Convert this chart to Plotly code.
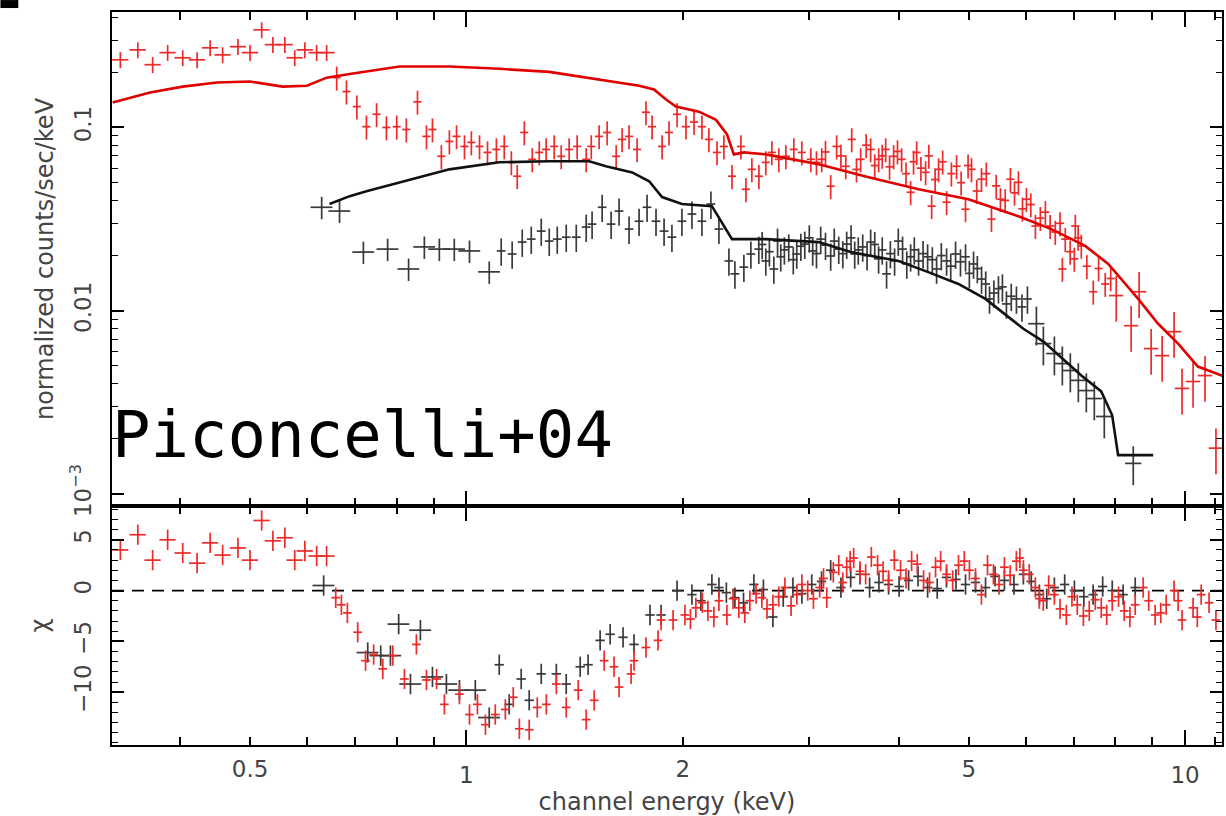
import plotly.graph_objects as go

# ---------------- spectrum data (keV, normalized counts/sec/keV) ----------------
# red spectrum, soft band
red_soft_E = [0.330, 0.349, 0.366, 0.384, 0.403, 0.422, 0.440, 0.458, 0.481, 0.500,
              0.519, 0.538, 0.559, 0.577, 0.596, 0.619, 0.639]
red_soft_F = [0.234, 0.265, 0.220, 0.256, 0.240, 0.234, 0.272, 0.249, 0.276, 0.256,
              0.341, 0.283, 0.283, 0.240, 0.265, 0.256, 0.256]
red_soft_chi = [4.0, 5.5, 3.0, 5.0, 3.7, 2.7, 4.7, 3.5, 4.2, 3.0,
                6.9, 4.9, 5.2, 3.0, 3.9, 3.4, 3.4]

# red spectrum, main band
red_E = [0.660, 0.681, 0.704, 0.726, 0.750, 0.774, 0.800, 0.825, 0.855, 0.880,
         0.897, 0.923, 0.947, 0.969, 0.994, 1.016, 1.043, 1.070, 1.101, 1.129,
         1.155, 1.177, 1.204, 1.235, 1.263, 1.291, 1.325, 1.355, 1.390, 1.426,
         1.468, 1.492, 1.530, 1.570, 1.616, 1.647, 1.684, 1.728, 1.778, 1.813,
         1.872, 1.914, 1.964, 2.021, 2.074, 2.127, 2.175, 2.232, 2.282, 2.342,
         2.410, 2.449, 2.496, 2.553, 2.610, 2.661, 2.721, 2.783, 2.855, 2.929,
         3.015, 3.07, 3.122, 3.16, 3.213, 3.275, 3.32, 3.372, 3.437, 3.49,
         3.537, 3.60, 3.652, 3.70, 3.747, 3.79, 3.832, 3.88, 3.931, 3.98,
         4.033, 4.09, 4.151, 4.19, 4.232, 4.29, 4.355, 4.40, 4.440, 4.49,
         4.540, 4.60, 4.658, 4.73, 4.809, 4.88, 4.949, 4.99, 5.045, 5.13,
         5.209, 5.29, 5.378, 5.46, 5.535, 5.62, 5.715, 5.79, 5.864, 5.94,
         6.016, 6.10, 6.191, 6.29, 6.392, 6.49, 6.598, 6.70, 6.750, 6.813,
         6.92, 7.013, 7.035, 7.10, 7.172, 7.30, 7.452, 7.58, 7.743, 7.88]
red_F = [0.187, 0.157, 0.130, 0.101, 0.118, 0.100, 0.101, 0.0975, 0.138, 0.0894,
         0.0975, 0.0696, 0.0839, 0.0894, 0.0788, 0.0829, 0.0788, 0.0731, 0.0759, 0.0788,
         0.0645, 0.0542, 0.0939, 0.0670, 0.0731, 0.0759, 0.0788, 0.0696, 0.0759, 0.0788,
         0.0670, 0.0788, 0.0894, 0.0939, 0.0696, 0.0861, 0.0894, 0.0759, 0.121, 0.101,
         0.0788, 0.0939, 0.118, 0.101, 0.107, 0.101, 0.0861, 0.0731, 0.0788, 0.0542,
         0.0788, 0.0460, 0.0591, 0.0542, 0.0645, 0.0731, 0.0670, 0.0696, 0.0759, 0.0731,
         0.0670, 0.0645, 0.0670, 0.0735, 0.0478, 0.0788, 0.0700, 0.0614, 0.0861, 0.0590,
         0.0670, 0.0800, 0.0759, 0.0620, 0.0670, 0.0700, 0.0759, 0.0610, 0.0696, 0.0740,
         0.0670, 0.0560, 0.0443, 0.0650, 0.0731, 0.0600, 0.0569, 0.0700, 0.0372, 0.0520,
         0.0591, 0.0650, 0.0391, 0.0560, 0.0614, 0.0500, 0.0358, 0.0620, 0.0591, 0.0450,
         0.0522, 0.0560, 0.0316, 0.0480, 0.0406, 0.0400, 0.0522, 0.0440, 0.0502, 0.0360,
         0.0406, 0.0380, 0.0290, 0.0320, 0.0345, 0.0290, 0.0269, 0.0300, 0.0169, 0.0246,
         0.0210, 0.0192, 0.0290, 0.0250, 0.0226, 0.0175, 0.0127, 0.0170, 0.0140, 0.0150]

# red spectrum, hard band
red_hard_E = [8.021, 8.414, 8.632, 8.971, 9.292, 9.654, 9.904, 10.26, 10.66, 11.04]
red_hard_F = [0.0121, 0.00829, 0.0127, 0.00622, 0.00569, 0.00769, 0.00377, 0.00411,
              0.00443, 0.00178]

# black spectrum
black_soft_E = [0.629, 0.666, 0.719, 0.777, 0.831, 0.874, 0.917, 0.962, 1.010, 1.076]
black_soft_F = [0.0367, 0.0350, 0.0209, 0.0217, 0.0169, 0.0223, 0.0217, 0.0217,
                0.0212, 0.0163]

black_E = [1.118, 1.158, 1.196, 1.231, 1.271, 1.304, 1.338, 1.377, 1.422, 1.468,
           1.496, 1.545, 1.590, 1.631, 1.684, 1.739, 1.784, 1.836, 1.884, 1.932,
           1.995, 2.060, 2.127, 2.189, 2.246, 2.319, 2.364, 2.433, 2.488, 2.552,
           2.58, 2.610, 2.64, 2.678, 2.71, 2.738, 2.77, 2.809, 2.85, 2.882,
           2.92, 2.957, 3.00, 3.033, 3.07, 3.112, 3.16, 3.213, 3.25, 3.297,
           3.34, 3.382, 3.43, 3.470, 3.51, 3.560, 3.61, 3.652, 3.70, 3.746,
           3.79, 3.843, 3.89, 3.943, 3.99, 4.045, 4.10, 4.151, 4.20, 4.258,
           4.32, 4.383, 4.45, 4.511, 4.58, 4.658, 4.72, 4.794, 4.87, 4.949,
           5.01, 5.078, 5.14, 5.210, 5.28, 5.345, 5.42, 5.500, 5.57, 5.642,
           5.73, 5.826, 5.93, 6.035]
black_F = [0.0212, 0.0204, 0.0237, 0.0246, 0.0272, 0.0240, 0.0246, 0.0252, 0.0252, 0.0286,
           0.0297, 0.0367, 0.0297, 0.0350, 0.0279, 0.0308, 0.0367, 0.0308, 0.0272, 0.0252,
           0.0308, 0.0337, 0.0308, 0.0382, 0.0279, 0.0187, 0.0159, 0.0173, 0.0204, 0.0217,
           0.0230, 0.0187, 0.0210, 0.0169, 0.0240, 0.0197, 0.0215, 0.0223, 0.0190, 0.0204,
           0.0225, 0.0231, 0.0250, 0.0212, 0.0205, 0.0246, 0.0228, 0.0199, 0.0240, 0.0217,
           0.0205, 0.0231, 0.0250, 0.0204, 0.0215, 0.0223, 0.0200, 0.0237, 0.0230, 0.0192,
           0.0215, 0.0159, 0.0205, 0.0187, 0.0240, 0.0217, 0.0180, 0.0197, 0.0215, 0.0187,
           0.0205, 0.0197, 0.0190, 0.0169, 0.0200, 0.0187, 0.0175, 0.0204, 0.0185, 0.0197,
           0.0160, 0.0180, 0.0170, 0.0149, 0.0140, 0.0116, 0.0125, 0.0132, 0.0135, 0.0109,
           0.0120, 0.0116, 0.0105, 0.0116]

black_hard_E = [6.211, 6.351, 6.579, 6.749, 6.924, 7.104, 7.288, 7.477, 7.720, 8.471]
black_hard_F = [0.00850, 0.00662, 0.00584, 0.00515, 0.00472, 0.00417, 0.00367, 0.00332,
                0.00265, 0.00147]

# ---------------- folded models ----------------
red_model_E = [0.322, 0.363, 0.403, 0.450, 0.500, 0.555, 0.600, 0.639, 0.688, 0.807,
               0.947, 1.111, 1.304, 1.530, 1.739, 1.824, 1.896, 1.957, 2.107, 2.225,
               2.305, 2.356, 2.433, 2.610, 3.092, 3.628, 4.258, 4.996, 5.864, 6.515,
               7.262, 7.818, 8.606, 9.173, 9.779, 10.42, 11.33]
red_model_F = [0.137, 0.155, 0.167, 0.176, 0.178, 0.167, 0.169, 0.187, 0.196, 0.215,
               0.215, 0.209, 0.201, 0.182, 0.169, 0.161, 0.142, 0.130, 0.122, 0.110,
               0.0916, 0.0713, 0.0731, 0.0713, 0.0630, 0.0535, 0.0460, 0.0406, 0.0328, 0.0279,
               0.0226, 0.0180, 0.0116, 0.00849, 0.00662, 0.00496, 0.00438]

black_model_E = [0.645, 0.688, 0.726, 0.807, 0.947, 1.111, 1.304, 1.482, 1.564, 1.701,
                 1.796, 1.872, 1.995, 2.196, 2.268, 2.342, 2.610, 3.092, 3.425, 3.994,
                 4.383, 4.838, 5.275, 5.957, 6.352, 6.750, 7.172, 7.644, 7.917, 8.070,
                 9.029]
black_model_F = [0.0382, 0.0422, 0.0449, 0.0502, 0.0591, 0.0646, 0.0654, 0.0654, 0.0614, 0.0569,
                 0.0509, 0.0417, 0.0382, 0.0372, 0.0305, 0.0246, 0.0246, 0.0237, 0.0209, 0.0187,
                 0.0163, 0.0140, 0.0116, 0.00798, 0.00679, 0.00548, 0.00443, 0.00363, 0.00269, 0.00163,
                 0.00163]

# ---------------- residuals (chi) ----------------
red_res_E = [0.658, 0.670, 0.683, 0.706, 0.724, 0.743, 0.765, 0.790, 0.820, 0.852,
             0.880, 0.909, 0.932, 0.978, 1.010, 1.036, 1.063, 1.097, 1.133, 1.162,
             1.185, 1.223, 1.255, 1.292, 1.334, 1.377, 1.431, 1.468, 1.506, 1.555,
             1.605, 1.631, 1.695, 1.711, 1.778, 1.848, 1.866, 1.939,
             2.014, 2.05, 2.086, 2.13, 2.168, 2.21, 2.246, 2.304, 2.35, 2.394,
             2.44, 2.480, 2.53, 2.577, 2.62, 2.670, 2.72, 2.775, 2.83, 2.883,
             2.93, 2.985, 3.04, 3.102, 3.14, 3.173, 3.24, 3.297, 3.34, 3.382,
             3.42, 3.459, 3.53, 3.594, 3.66, 3.734, 3.80, 3.868, 3.94, 4.019,
             4.09, 4.164, 4.24, 4.327, 4.41, 4.496, 4.57, 4.657, 4.75, 4.839,
             4.93, 5.012, 5.11, 5.208, 5.31, 5.412, 5.51, 5.606, 5.71, 5.825,
             5.89, 5.957, 6.07, 6.190, 6.27, 6.350, 6.46, 6.579, 6.70, 6.836,
             6.96, 7.080, 7.22, 7.357, 7.50, 7.645, 7.78, 7.919, 8.08, 8.229,
             8.38, 8.524, 8.745, 8.90, 9.086, 9.25, 9.413, 9.654, 9.78, 9.904,
             10.26, 10.4, 10.53, 10.8, 11.04]
red_res_chi = [-0.7, -1.4, -2.2, -4.1, -6.9, -6.3, -7.7, -6.4, -8.7, -5.3,
               -8.8, -8.7, -11.2, -10.2, -12.2, -11.2, -13.2, -12.2, -11.7, -10.5,
               -13.6, -13.7, -11.5, -11.2, -9.2, -11.5, -9.8, -12.7, -10.8, -6.9,
               -7.5, -9.5, -8.2, -6.9, -5.6, -4.9, -2.9, -2.9,
               -2.4, -2.8, -1.7, -1.2, -2.0, -2.6, -1.0, -2.4, -0.8, -1.7,
               -2.2, -1.0, -0.3, -0.7, -1.8, -1.4, -0.6, 0.3, -1.5, -0.4,
               0.6, 0.0, -0.8, 0.3, 1.2, -0.7, 1.8, 2.5, 0.8, 2.3,
               2.9, 3.2, 1.9, 1.6, 3.3, 2.5, 1.9, 1.0, 3.0, 2.0,
               1.2, 2.9, 2.6, 1.0, 0.8, 2.3, 2.9, 1.6, 1.0, 2.5,
               2.9, 2.0, 1.2, -0.4, 2.5, 1.6, 0.6, 2.3, 1.5, 2.9,
               3.2, 2.0, 1.6, 0.3, -0.8, -1.0, 0.5, -0.4, -1.8, -2.4,
               -0.6, -1.4, -2.5, -2.0, -0.9, -1.7, -2.4, -1.0, -0.6, -2.0,
               -2.6, -1.4, 0.3, -1.0, -2.4, -2.2, -1.4, 0.0, -1.0, -2.9,
               -1.7, -2.6, -0.4, -1.2, -2.9]

black_res_soft_E = [0.633, 0.729, 0.760, 0.784, 0.805, 0.836, 0.863, 0.897, 0.938, 0.978,
                    1.029, 1.076]
black_res_soft_chi = [0.5, -6.1, -6.4, -6.4, -3.3, -9.2, -3.9, -8.5, -9.2, -9.8,
                      -9.8, -12.5]

black_res_E = [1.111, 1.147, 1.192, 1.223, 1.271, 1.334, 1.377, 1.440, 1.477, 1.535,
               1.585, 1.652, 1.711, 1.801, 1.866, 1.964, 2.060, 2.12, 2.196, 2.246,
               2.30, 2.364, 2.43, 2.512, 2.59, 2.670, 2.76, 2.847, 2.93, 3.024,
               3.12, 3.213, 3.32, 3.426, 3.53, 3.640, 3.75, 3.868, 4.00, 4.124,
               4.25, 4.383, 4.52, 4.657, 4.80, 4.949, 5.11, 5.277, 5.44, 5.606,
               5.78, 5.957, 6.11, 6.271, 6.42, 6.579, 6.80, 7.015, 7.23, 7.449,
               7.68, 7.919, 8.20, 8.524]
black_res_chi = [-7.3, -11.2, -8.7, -10.8, -8.2, -8.2, -9.2, -7.5, -7.3, -4.9,
                 -4.3, -4.6, -5.3, -2.4, -2.4, 0.0, -0.4, -1.0, 0.6, 0.3,
                 -0.2, -0.7, -1.2, 0.6, 0.1, -2.6, -0.6, 0.3, -0.3, 0.6,
                 0.9, 2.0, 0.3, 1.3, 1.6, 0.3, 0.8, 0.6, 0.4, 1.0,
                 1.4, 0.3, 0.2, 1.3, 1.1, 0.6, 0.8, 0.3, 1.4, 1.0,
                 0.6, 1.6, 0.9, -0.4, -0.8, 0.3, 0.6, 0.0, -0.6, -0.4,
                 0.4, 0.0, -0.4, 0.3]

# axis label positions
x_label_vals = [0.5, 2, 5]
x_label_text = ["0.5", "2", "5"]

# ---------------- styling ----------------
RED_DATA = "#ee2a2a"
RED_MODEL = "#e00000"
BLACK_DATA = "#3a3a3a"
BLACK_MODEL = "#111111"
TEXT = "#444444"
FONT = "DejaVu Sans"

X_RANGE = [-0.4931, 1.0514]
TOP_Y_RANGE = [-3.065, -0.370]
RES_Y_RANGE = [-15.2, 8.33]
SPLIT = 0.3261

fig = go.Figure()


def spectrum(E, F, color, xpct, ypct):
    return go.Scatter(
        x=E, y=F, mode="markers", xaxis="x", yaxis="y",
        marker=dict(size=2, color=color),
        error_x=dict(type="percent", value=xpct, color=color, thickness=1.7, width=0),
        error_y=dict(type="percent", value=ypct, color=color, thickness=1.7, width=0),
        showlegend=False, hoverinfo="skip")


def residual(E, chi, color, xpct):
    return go.Scatter(
        x=E, y=chi, mode="markers", xaxis="x2", yaxis="y2",
        marker=dict(size=2, color=color),
        error_x=dict(type="percent", value=xpct, color=color, thickness=1.7, width=0),
        error_y=dict(type="constant", value=1.0, color=color, thickness=1.7, width=0),
        showlegend=False, hoverinfo="skip")


# upper panel: black spectrum, then red spectrum
fig.add_trace(spectrum(black_soft_E, black_soft_F, BLACK_DATA, 3.5, 14))
fig.add_trace(spectrum(black_E, black_F, BLACK_DATA, 1.4, 17))
fig.add_trace(spectrum(black_hard_E, black_hard_F, BLACK_DATA, 2.6, 24))
fig.add_trace(spectrum(red_soft_E, red_soft_F, RED_DATA, 2.6, 10))
fig.add_trace(spectrum(red_E, red_F, RED_DATA, 1.3, 15))
fig.add_trace(spectrum(red_hard_E, red_hard_F, RED_DATA, 2.3, 28))

# folded models
fig.add_trace(go.Scatter(x=black_model_E, y=black_model_F, mode="lines", xaxis="x", yaxis="y",
                         line=dict(color=BLACK_MODEL, width=2.6),
                         showlegend=False, hoverinfo="skip"))
fig.add_trace(go.Scatter(x=red_model_E, y=red_model_F, mode="lines", xaxis="x", yaxis="y",
                         line=dict(color=RED_MODEL, width=2.6),
                         showlegend=False, hoverinfo="skip"))

# lower panel: residuals
fig.add_trace(residual(black_res_soft_E, black_res_soft_chi, BLACK_DATA, 3.5))
fig.add_trace(residual(black_res_E, black_res_chi, BLACK_DATA, 1.5))
fig.add_trace(residual(red_soft_E, red_soft_chi, RED_DATA, 2.6))
fig.add_trace(residual(red_res_E, red_res_chi, RED_DATA, 1.4))

# empty trace that attaches the label-only energy axis
fig.add_trace(go.Scatter(x=[], y=[], xaxis="x3", yaxis="y2", showlegend=False,
                         hoverinfo="skip"))

minor_x = [0.4, 0.5, 0.6, 0.7, 0.8, 0.9, 2, 3, 4, 5, 6, 7, 8, 9, 11]
minor_top_y = [0.002, 0.003, 0.004, 0.005, 0.006, 0.007, 0.008, 0.009,
               0.02, 0.03, 0.04, 0.05, 0.06, 0.07, 0.08, 0.09, 0.2, 0.3, 0.4]

common_axis = dict(showline=True, linecolor="black", linewidth=2, mirror="ticks",
                   ticks="inside", tickcolor="black", tickwidth=1.5,
                   showgrid=False, zeroline=False,
                   tickfont=dict(family=FONT, size=23, color=TEXT))

fig.update_layout(
    width=1226, height=816,
    margin=dict(l=112, r=2, t=12, b=68),
    paper_bgcolor="white", plot_bgcolor="white",
    xaxis=dict(common_axis, domain=[0, 1], anchor="y", type="log", range=X_RANGE,
               tickmode="array", tickvals=[1, 10], ticklen=15, showticklabels=False,
               minor=dict(tickmode="array", tickvals=minor_x, ticks="inside", ticklen=8,
                          tickcolor="black", tickwidth=1.5)),
    yaxis=dict(common_axis, domain=[SPLIT, 1], anchor="x", type="log", range=TOP_Y_RANGE,
               tickmode="array", tickvals=[0.001, 0.01, 0.1],
               ticktext=["10<sup>\u22123</sup>", "0.01", "0.1"],
               tickangle=-90, ticklen=12, ticklabelstandoff=10,
               minor=dict(tickmode="array", tickvals=minor_top_y, ticks="inside", ticklen=6,
                          tickcolor="black", tickwidth=1.2),
               title=dict(text="normalized counts/sec/keV", standoff=6,
                          font=dict(family=FONT, size=24, color=TEXT))),
    xaxis2=dict(common_axis, domain=[0, 1], anchor="y2", type="log", range=X_RANGE,
                tickmode="array", tickvals=[1, 10], ticktext=["1", "10"], ticklen=15,
                ticklabelstandoff=8,
                minor=dict(tickmode="array", tickvals=minor_x, ticks="inside", ticklen=8,
                           tickcolor="black", tickwidth=1.5),
                title=dict(text="channel energy (keV)", standoff=10,
                           font=dict(family=FONT, size=24, color=TEXT))),
    xaxis3=dict(overlaying="x2", anchor="y2", side="bottom", type="log", range=X_RANGE,
                tickmode="array", tickvals=x_label_vals, ticktext=x_label_text,
                ticks="", showline=False, showgrid=False, zeroline=False,
                ticklabelstandoff=8,
                tickfont=dict(family=FONT, size=23, color=TEXT)),
    yaxis2=dict(common_axis, domain=[0, SPLIT], anchor="x2", range=RES_Y_RANGE,
                tickmode="array", tickvals=[-10, -5, 0, 5],
                ticktext=["\u221210", "\u22125", "0", "5"],
                tickangle=-90, ticklen=12, ticklabelstandoff=10,
                minor=dict(tickmode="linear", dtick=1, ticks="inside", ticklen=6,
                           tickcolor="black", tickwidth=1.2),
                title=dict(text="\u03c7", standoff=14,
                           font=dict(family=FONT, size=24, color=TEXT))),
)

# zero level of the residual panel
fig.add_shape(type="line", xref="x2 domain", x0=0, x1=1, yref="y2", y0=0, y1=0,
              line=dict(color="black", width=1.6, dash="12px,8px"), layer="below")

# small black mark in the top-left corner
fig.add_shape(type="rect", xref="paper", yref="paper", x0=-0.1005, x1=-0.0844,
              y0=1.0054, y1=1.0163, line=dict(width=0), fillcolor="black")

# handwritten-style reference label
fig.add_annotation(text="Piconcelli+04", xref="paper", yref="paper", x=-0.002, y=0.4226,
                   xanchor="left", yanchor="middle", showarrow=False,
                   font=dict(family="DejaVu Sans Mono", size=64, color="black"))

fig.write_html("out.html")
